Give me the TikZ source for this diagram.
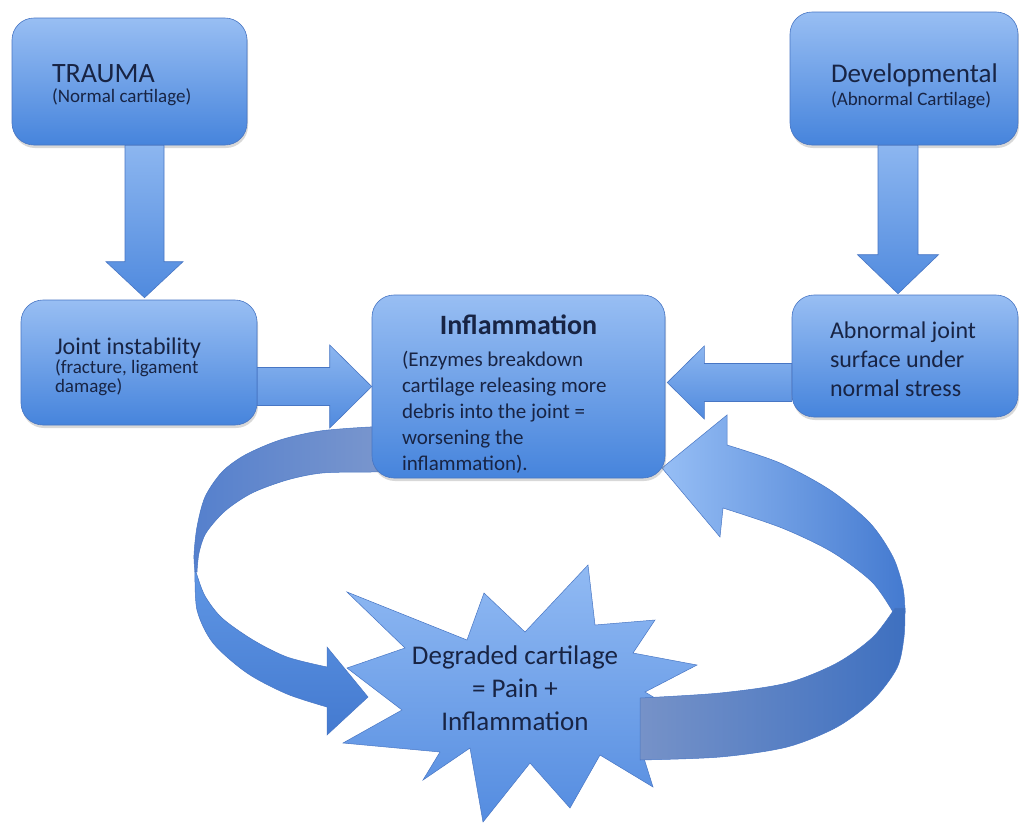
\documentclass[tikz,border=0pt]{standalone}
\usepackage{fontspec}
\setmainfont{Carlito}
\usetikzlibrary{calc,
shadows}

\definecolor{boxtop}{RGB}{152,190,243}
\definecolor{boxbot}{RGB}{70,132,220}
\definecolor{rim}{RGB}{72,118,196}
\definecolor{ink}{RGB}{24,36,68}
\definecolor{arrowtop}{RGB}{140,182,240}
\definecolor{arrowbot}{RGB}{80,138,222}
\definecolor{backlight}{RGB}{125,152,205}
\definecolor{backdark}{RGB}{85,128,205}
\definecolor{frontlight}{RGB}{95,150,228}
\definecolor{frontdark}{RGB}{68,122,208}
\definecolor{bandlight}{RGB}{150,190,245}
\definecolor{banddark}{RGB}{62,112,192}
\definecolor{bandgrey}{RGB}{118,146,200}
\definecolor{startop}{RGB}{145,186,243}
\definecolor{starbot}{RGB}{84,140,224}

\newcommand*{\aside}[1]{{\fontsize{19pt}{21pt}\selectfont #1}}
\newcommand*{\fatarrow}[6][]{%
  \path (#2) coordinate (fa-s) (#3) coordinate (fa-e);
  \path ($(fa-e)!#6!(fa-s)$) coordinate (fa-h);
  \path[flow arrow, #1] ($(fa-s)!#4!90:(fa-e)$) -- ($(fa-h)!#4!90:(fa-e)$)
    -- ($(fa-h)!#5!90:(fa-e)$) -- (fa-e) -- ($(fa-h)!#5!-90:(fa-e)$)
    -- ($(fa-h)!#4!-90:(fa-e)$) -- ($(fa-s)!#4!-90:(fa-e)$) -- cycle;
}

\begin{document}
\begin{tikzpicture} [x=1pt, y=-1pt,
    stage/.style={rectangle, rounded corners=22pt, draw=rim, line width=.6pt,
      top color=boxtop, bottom color=boxbot, text=ink, align=flush left,
      drop shadow={opacity=.3, shadow xshift=1pt, shadow yshift=-3pt},
      font=\fontsize{24pt}{29pt}\selectfont},
    flow arrow/.style={draw=rim, line width=.6pt,
      top color=arrowtop, bottom color=arrowbot},
    ribbon/.style={draw=rim, line width=.5pt},
    every node/.style={text=ink}
  ]

  \fill[white] (0,0) rectangle (1019,825);
  \useasboundingbox (0,0) rectangle (1019,825);

  % starburst
  \path[ribbon, top color=startop, bottom color=starbot]
    (347,592) -- (467,640) -- (484,593) -- (525,632) -- (588,565) -- (595,625)
    -- (655,620) -- (633,653) -- (697,665) -- (645,692) -- (700,725) -- (642,752)
    -- (653,787) -- (600,755) -- (570,808) -- (530,763) -- (483,822) -- (470,748)
    -- (423,780) -- (440,752) -- (343,743) -- (402,710) -- (347,668) -- (405,648)
    -- cycle;

  % left loop
  \path[ribbon, left color=backdark, right color=backlight]
    plot[smooth] coordinates {(400,427) (370,427) (320,431) (280,440) (245,455)
      (222,472) (205,497) (197,527) (194,555) (195,572)}
    -- plot[smooth] coordinates {(197,572) (199,553) (206,533) (225,511) (252,493)
      (287,480) (322,473) (370,472) (400,472)} -- cycle;
  \path[ribbon, top color=frontlight, bottom color=frontdark]
    plot[smooth] coordinates {(195,570) (197,610) (213,643) (247,673) (287,694) (327,707)}
    -- (327,735) -- (368,697) -- (327,647) -- (327,667)
    -- plot[smooth] coordinates {(327,667) (287,657) (253,640) (222,618) (205,596) (197,575)}
    -- cycle;

  % right loop
  \path[ribbon, left color=bandlight, right color=frontdark]
    (662,468) -- (727,415) -- (727,445)
    -- plot[smooth] coordinates {(727,445) (780,463) (830,490) (870,523) (893,557)
      (903,588) (905,612)}
    -- plot[smooth] coordinates {(893,612) (872,582) (832,552) (782,528) (723,508)}
    -- (720,537) -- cycle;
  \path[ribbon, left color=bandgrey, right color=banddark]
    plot[smooth] coordinates {(640,698) (720,693) (787,683) (837,663) (873,637) (895,608)}
    -- plot[smooth] coordinates {(905,608) (904,637) (897,668) (873,700) (837,727)
      (787,747) (720,757) (640,760)} -- cycle;

  \node [align=center, font=\fontsize{27pt}{33pt}\selectfont] (degr) at (515,688)
    {Degraded cartilage\\= Pain +\\Inflammation};

  \node [stage, minimum width=235pt, minimum height=127pt,
    text width=155pt, inner xsep=40pt,
    font=\fontsize{28pt}{34pt}\selectfont
  ] (trauma) at (129.5,81.5) {\rule{0pt}{25pt}TRAUMA\\[-14pt]\aside{(Normal cartilage)}};

  \node [stage, minimum width=228pt, minimum height=133pt,
    text width=146pt, inner xsep=41pt,
    font=\fontsize{27pt}{33pt}\selectfont
  ] (devel) at (904,78.5) {\rule{0pt}{34pt}\mbox{Developmental}\\[-10pt]\aside{\mbox{(Abnormal Cartilage)}}};

  \node [stage, minimum width=236pt, minimum height=125pt,
    text width=168pt, inner xsep=34pt
  ] (joint) at (139,362.5) {\rule{0pt}{25pt}Joint instability\\[-10pt]\aside{(fracture, ligament}\\[-10pt]\aside{damage)}};

  \node [stage, minimum width=293pt, minimum height=183pt,
    text width=233pt, inner xsep=30pt,
    font=\fontsize{21pt}{26pt}\selectfont
  ] (infl) at (518.5,386.5) {\makebox[\linewidth]{\rule{0pt}{35pt}\fontsize{28pt}{32pt}\selectfont\bfseries Inflammation}\\[6pt]
    (Enzymes breakdown\\cartilage releasing more\\debris into the joint =\\worsening the\\inflammation).};

  \node [stage, minimum width=226pt, minimum height=122pt,
    text width=150pt, inner xsep=38pt
  ] (abn) at (905,356) {\rule{0pt}{24pt}Abnormal joint\\surface under\\normal stress};

  \fatarrow{$(trauma.south)+(15,0)$}{$(joint.north)+(5.5,-2)$}{19.5pt}{38.5pt}{36pt}
  \fatarrow{$(devel.south)+(-6,0)$}{$(abn.north)+(-7,-1)$}{20pt}{40.5pt}{39pt}
  \fatarrow{joint.east |- infl.west}{infl.west}{19pt}{41.5pt}{42pt}
  \fatarrow{$(abn.west |- infl.east)+(0,-4)$}{$(infl.east)+(2,-4)$}{19pt}{36.5pt}{37pt}

\end{tikzpicture}
\end{document}
